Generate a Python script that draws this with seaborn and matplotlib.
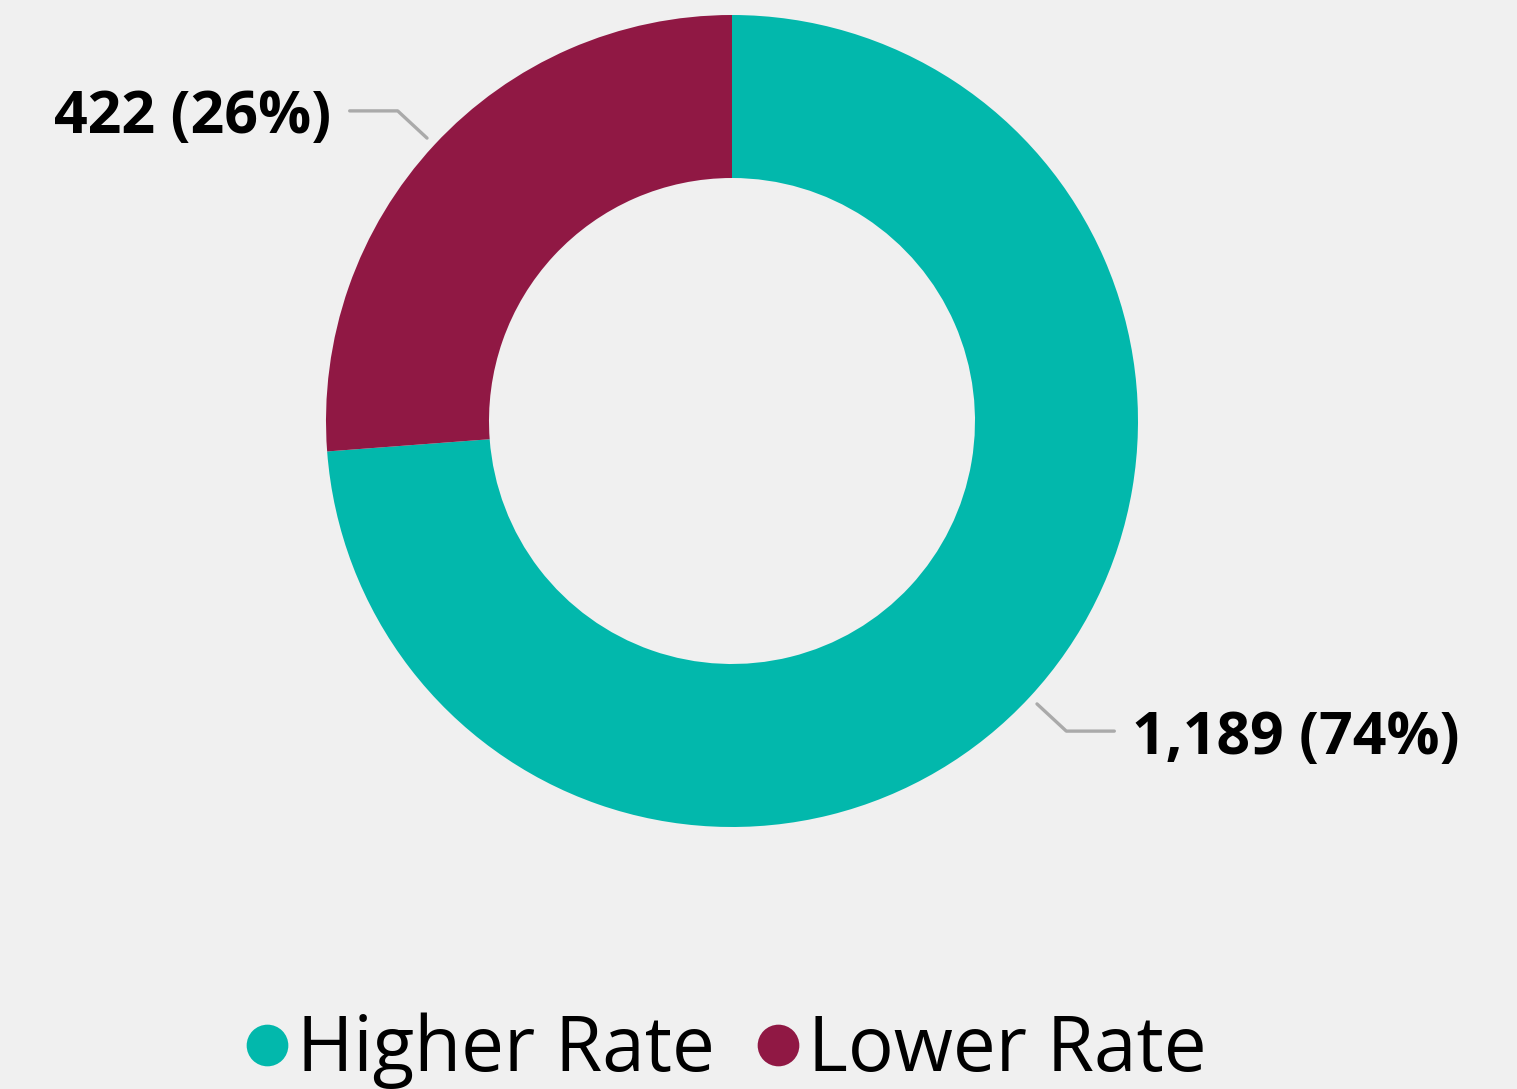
import numpy as np
import matplotlib.pyplot as plt
import seaborn as sns
from matplotlib.lines import Line2D

categories = ["Higher Rate", "Lower Rate"]
counts = [1189, 422]
colors = ["#02b8ac", "#901844"]

W, H = 1517, 1089
sns.set_theme(style="white")
plt.rcParams["font.family"] = ["Open Sans", "DejaVu Sans"]
plt.rcParams["text.color"] = "black"

fig = plt.figure(figsize=(W / 100, H / 100), dpi=100, facecolor="#f0f0f0")
ax = fig.add_axes([0, 0, 1, 1])
ax.set_facecolor("#f0f0f0")

cx, cy = 732, H - 421
r_out, r_in = 406, 243

wedges, _ = ax.pie(
    counts, colors=colors, startangle=90, counterclock=False,
    radius=r_out, center=(cx, cy),
    wedgeprops=dict(width=r_out - r_in, linewidth=0),
)
ax.set_xlim(0, W)
ax.set_ylim(0, H)
ax.set_aspect("equal")
ax.axis("off")

total = sum(counts)
for w, n in zip(wedges, counts):
    mid = np.deg2rad((w.theta1 + w.theta2) / 2)
    c, s = np.cos(mid), np.sin(mid)
    p0 = (cx + 416 * c, cy + 416 * s)
    p1 = (cx + 456 * c, cy + 456 * s)
    side = 1 if c > 0 else -1
    p2 = (p1[0] + side * 48, p1[1])
    ax.plot([p0[0], p1[0], p2[0]], [p0[1], p1[1], p2[1]],
            color="#aaaaaa", lw=2.4, solid_capstyle="round")
    label = f"{n:,} ({n / total:.0%})"
    ax.text(p2[0] + side * 18, p2[1] - 7, label, ha="left" if side > 0 else "right",
            va="center", fontsize=42.5, fontweight="bold", color="black")

handles = [Line2D([], [], marker="o", linestyle="", markersize=30,
                  markerfacecolor=col, markeredgewidth=0) for col in colors]
leg = ax.legend(handles, categories, loc="center", bbox_to_anchor=(726 / W, 38 / H),
                bbox_transform=ax.transAxes, ncol=2, frameon=False, fontsize=55,
                handlelength=0.55, handletextpad=0.12, columnspacing=0.55,
                borderpad=0, borderaxespad=0)
for t in leg.get_texts():
    t.set_color("black")

fig.savefig("out.png", dpi=100, facecolor="#f0f0f0")
